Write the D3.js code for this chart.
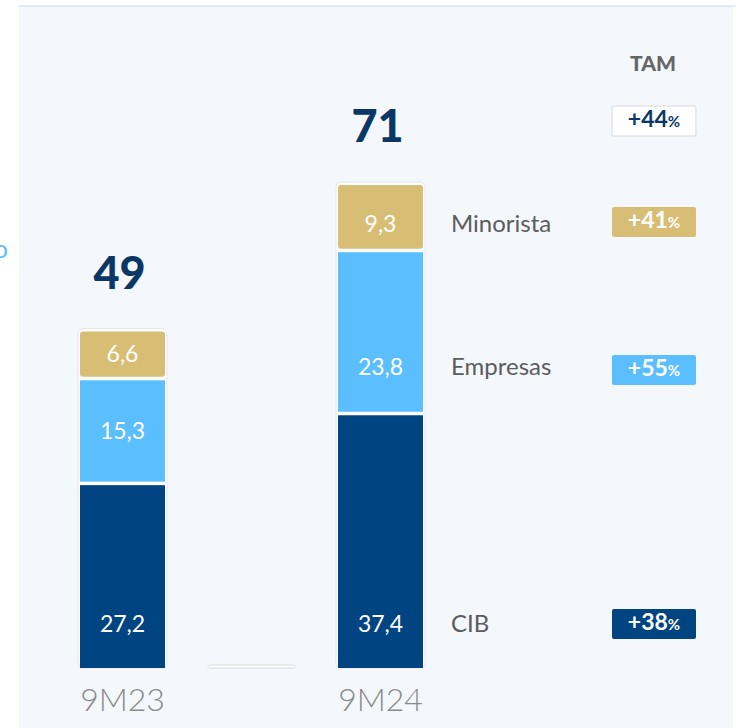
<!DOCTYPE html>
<html>
<head>
<meta charset="utf-8">
<script src="https://cdn.jsdelivr.net/npm/d3@7"></script>
<style>
  html, body { margin: 0; padding: 0; background: #fff; }
  svg { display: block; font-family: Lato, "Noto Sans", sans-serif; }
</style>
</head>
<body>
<div id="chart"></div>
<script>
// periods on the x axis and the three business lines
var periods = ["9M23", "9M24"];
var segments = ["CIB", "Empresas", "Minorista"];
var cibValues = [27.2, 37.4];
var empresasValues = [15.3, 23.8];
var minoristaValues = [6.6, 9.3];
var totals = ["49", "71"];
var valueLabels = {
    CIB: ["27,2", "37,4"],
    Empresas: ["15,3", "23,8"],
    Minorista: ["6,6", "9,3"]
};
var tamLabels = ["+44", "+41", "+55", "+38"];

var colors = { CIB: "#004481", Empresas: "#5bbeff", Minorista: "#d8be75" };

var width = 741, height = 728;
var svg = d3.select("#chart")
    .append("svg")
    .attr("width", width)
    .attr("height", height);

// panel background
svg.append("rect")
    .attr("x", 19).attr("y", 6)
    .attr("width", 714).attr("height", height - 6)
    .attr("fill", "#f4f8fc");
svg.append("rect")
    .attr("x", 19).attr("y", 5)
    .attr("width", 716).attr("height", 2)
    .attr("fill", "#e6e9ed");

// cut off text at the left edge (it is cut in the original too)
svg.append("text")
    .attr("x", 8).attr("y", 258)
    .attr("text-anchor", "end")
    .attr("font-size", 25)
    .attr("fill", "#5bbeff")
    .text("o");

var x = d3.scalePoint().domain(periods).range([122.5, 380.5]);
var barWidth = 85;
var gap = 3.5;
var yMax = d3.max(periods, function(p, i) { return cibValues[i] + empresasValues[i] + minoristaValues[i]; });
var y = d3.scaleLinear().domain([0, yMax]).range([668, 185]);

var values = { CIB: cibValues, Empresas: empresasValues, Minorista: minoristaValues };
var stackData = periods.map(function(p, i) {
    var row = { period: p };
    segments.forEach(function(s) { row[s] = values[s][i]; });
    return row;
});
var stacked = d3.stack().keys(segments)(stackData);

// legend rows (right side) line up with the 9M24 labels
var rowY = { Minorista: 224, Empresas: 367, CIB: 624 };

// outline behind each bar
svg.selectAll(".barFrame")
    .data(stackData)
    .enter()
    .append("rect")
    .attr("class", "barFrame")
    .attr("x", function(d) { return x(d.period) - barWidth / 2 - 2; })
    .attr("y", function(d) { return y(d.CIB + d.Empresas + d.Minorista) - 3; })
    .attr("width", barWidth + 4)
    .attr("height", function(d) { return 668 - y(d.CIB + d.Empresas + d.Minorista) + 3; })
    .attr("rx", 5)
    .attr("fill", "#ffffff")
    .attr("stroke", "#e3e6ea")
    .attr("stroke-width", 1);

stacked.forEach(function(layer) {
    var key = layer.key;
    var isTop = key == "Minorista";
    svg.selectAll(".seg-" + key)
        .data(layer)
        .enter()
        .append("rect")
        .attr("class", "seg-" + key)
        .attr("x", function(d) { return x(d.data.period) - barWidth / 2; })
        .attr("y", function(d) { return y(d[1]) + (isTop ? 0 : gap); })
        .attr("width", barWidth)
        .attr("height", function(d) { return y(d[0]) - y(d[1]) - (isTop ? 0 : gap); })
        .attr("rx", isTop ? 3 : 0)
        .attr("fill", colors[key]);

    svg.selectAll(".lab-" + key)
        .data(layer)
        .enter()
        .append("text")
        .attr("class", "lab-" + key)
        .attr("x", function(d) { return x(d.data.period); })
        .attr("y", function(d, i) {
            if (key == "CIB" || i == 1) return rowY[key];
            return (y(d[0]) + y(d[1]) + (isTop ? 0 : gap)) / 2;
        })
        .attr("dy", "0.35em")
        .attr("text-anchor", "middle")
        .attr("font-size", 23)
        .attr("fill", "#ffffff")
        .text(function(d, i) { return valueLabels[key][i]; });
});

// totals above bars
svg.selectAll(".total")
    .data(stackData)
    .enter()
    .append("text")
    .attr("class", "total")
    .attr("x", function(d) { return x(d.period) - 3; })
    .attr("y", function(d) { return y(d.CIB + d.Empresas + d.Minorista) - 43; })
    .attr("text-anchor", "middle")
    .attr("font-size", 45)
    .attr("font-weight", 900)
    .attr("fill", "#0b3766")
    .text(function(d, i) { return totals[i]; });

// period labels
svg.selectAll(".period")
    .data(periods)
    .enter()
    .append("text")
    .attr("class", "period")
    .attr("x", function(d) { return x(d); })
    .attr("y", 711)
    .attr("text-anchor", "middle")
    .attr("font-size", 32)
    .attr("font-weight", 300)
    .attr("fill", "#8a8a8a")
    .text(function(d) { return d; });

// little divider between bars
svg.append("rect")
    .attr("x", (x(periods[0]) + x(periods[1])) / 2 - 43.5)
    .attr("y", 665)
    .attr("width", 87)
    .attr("height", 3)
    .attr("rx", 1.5)
    .attr("fill", "#ffffff")
    .attr("stroke", "#d0d3d7")
    .attr("stroke-width", 0.8);

// segment names
svg.selectAll(".segName")
    .data(segments)
    .enter()
    .append("text")
    .attr("class", "segName")
    .attr("x", 451)
    .attr("y", function(d) { return rowY[d]; })
    .attr("dy", "0.35em")
    .attr("font-size", 24)
    .attr("fill", "#5c5c5c")
    .text(function(d) { return d; });

// TAM column
svg.append("text")
    .attr("x", 653).attr("y", 71)
    .attr("text-anchor", "middle")
    .attr("font-size", 21)
    .attr("font-weight", 900)
    .attr("fill", "#666666")
    .text("TAM");

var tamRows = [
    { y: 121, fill: "#ffffff", stroke: "#e2e4e8", text: "#0b3766" },
    { y: rowY.Minorista - 2, fill: colors.Minorista, stroke: "none", text: "#ffffff" },
    { y: rowY.Empresas + 3, fill: colors.Empresas, stroke: "none", text: "#ffffff" },
    { y: rowY.CIB, fill: colors.CIB, stroke: "none", text: "#ffffff" }
];

var tam = svg.selectAll(".tam")
    .data(tamRows)
    .enter()
    .append("g")
    .attr("class", "tam")
    .attr("transform", function(d) { return "translate(654," + d.y + ")"; });

tam.append("rect")
    .attr("x", -42).attr("y", -15)
    .attr("width", 84).attr("height", 30)
    .attr("rx", 2)
    .attr("fill", function(d) { return d.fill; })
    .attr("stroke", function(d) { return d.stroke; })
    .attr("stroke-width", 1.5);

var tamText = tam.append("text")
    .attr("x", 0).attr("y", 0)
    .attr("dy", "0.36em")
    .attr("text-anchor", "middle")
    .attr("font-weight", 700)
    .attr("fill", function(d) { return d.text; });
tamText.append("tspan")
    .attr("font-size", 23)
    .text(function(d, i) { return tamLabels[i]; });
tamText.append("tspan")
    .attr("font-size", 15)
    .text("%");
</script>
</body>
</html>
